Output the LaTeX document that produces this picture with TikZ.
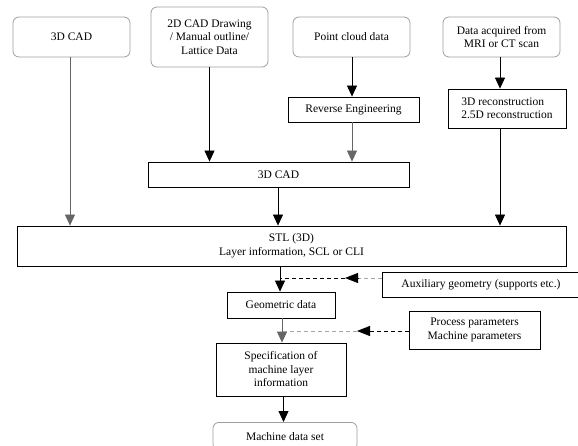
\documentclass[tikz,border=0pt]{standalone}
\usepackage{fontspec}
\setmainfont{Liberation Serif}
\usetikzlibrary{arrows.meta}
\tikzset{
  base/.style={draw, inner sep=0pt, align=center, font=\fontsize{11.5}{13.5}\selectfont, line width=0.8pt},
  rbox/.style={base, rounded corners=6pt, draw=gray!75},
  sbox/.style={base, draw=black},
  arr/.style={line width=0.8pt, -{Triangle[width=10pt,length=11pt]}},
  garr/.style={arr, draw=gray!80!black},
  dline/.style={line width=0.8pt, dash pattern=on 4pt off 3pt},
  tip/.style={line width=0.8pt, -{Triangle[width=10pt,length=13pt]}},
}
\begin{document}
\begin{tikzpicture}[x=1pt,y=-1pt]
\useasboundingbox (0,0) rectangle (578,446);
% top row
\node[rbox, minimum width=117pt, minimum height=40pt] (cad1) at (71.5,37) {3D CAD};
\node[rbox, minimum width=117pt, minimum height=60pt] (cad2d) at (209.5,37) {2D CAD Drawing\\/ Manual outline/\\Lattice Data};
\node[rbox, minimum width=117pt, minimum height=40pt] (pcloud) at (351.5,37) {Point cloud data};
\node[rbox, minimum width=117pt, minimum height=40pt] (mri) at (501.5,37) {Data acquired from\\MRI or CT scan};
% second row
\node[sbox, minimum width=131pt, minimum height=25pt] (rev) at (353.5,109.5) {Reverse Engineering};
\node[sbox, minimum width=118pt, minimum height=39pt, align=left] (recon) at (507,108.5) {3D reconstruction\\2.5D reconstruction};
\node[sbox, minimum width=261pt, minimum height=25pt] (cadmid) at (278.5,174.5) {3D CAD};
% STL
\node[sbox, minimum width=549pt, minimum height=40pt] (stl) at (291.5,246) {STL (3D)\\Layer information, SCL or CLI};
% lower
\node[sbox, minimum width=198pt, minimum height=25pt] (aux) at (481,284.5) {Auxiliary geometry (supports etc.)};
\node[sbox, minimum width=108pt, minimum height=26pt] (geo) at (281,305) {Geometric data};
\node[sbox, minimum width=131pt, minimum height=38pt] (proc) at (474.5,330) {Process parameters\\Machine parameters};
\node[sbox, minimum width=130pt, minimum height=53pt] (spec) at (281,369.5) {Specification of\\machine layer\\information};
\node[rbox, minimum width=144pt, minimum height=28pt, anchor=north] (mds) at (285,422) {Machine data set};
% helper coordinates
\coordinate (x1) at (70,0);
\coordinate (x2) at (352,0);
\coordinate (x3) at (500,0);
\coordinate (x4) at (278,0);
\coordinate (x5) at (280,0);
\coordinate (x6) at (282,0);
\coordinate (x7) at (283.5,0);
% connectors top
\draw[garr] (x1 |- cad1.south) -- (x1 |- stl.north);
\draw[arr] (cad2d.south) -- (cad2d.south |- cadmid.north);
\draw[arr] (x2 |- pcloud.south) -- (x2 |- rev.north);
\draw[garr] (x2 |- rev.south) -- (x2 |- cadmid.north);
\draw[arr] (x3 |- mri.south) -- (x3 |- recon.north);
\draw[arr] (x3 |- recon.south) -- (x3 |- stl.north);
\draw[arr] (x4 |- cadmid.south) -- (x4 |- stl.north);
% lower chain
\draw[arr] (x5 |- stl.south) -- (x5 |- geo.north);
\draw[garr] (x6 |- geo.south) -- (x6 |- spec.north);
\draw[arr] (x7 |- spec.south) -- (x7 |- mds.north);
% dashed feed from auxiliary geometry
\coordinate (j1) at (280,278);
\coordinate (t1) at (345,278);
\coordinate (h1) at (358,278);
\draw[dline, gray!70] (aux.west |- j1) -- (h1);
\draw[tip] (h1) -- (t1);
\draw[dline] (t1) -- (j1);
% dashed feed from process parameters
\coordinate (j2) at (282,331);
\coordinate (t2) at (357,331);
\coordinate (h2) at (370,331);
\draw[dline] (proc.west |- j2) -- (h2);
\draw[tip] (h2) -- (t2);
\draw[dline, gray!70] (t2) -- (j2);
\end{tikzpicture}
\end{document}
